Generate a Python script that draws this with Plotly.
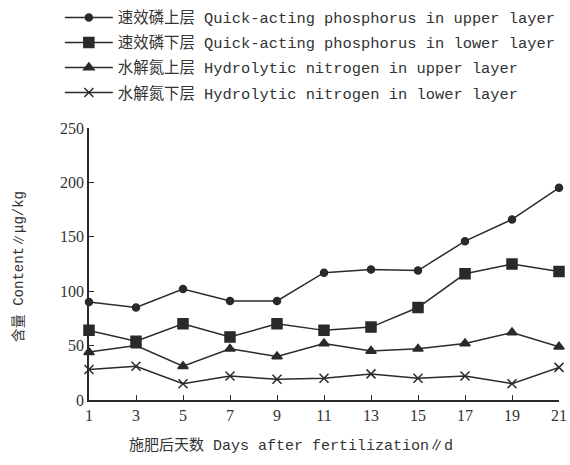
import plotly.graph_objects as go

days = [1, 3, 5, 7, 9, 11, 13, 15, 17, 19, 21]
p_upper = [90, 85, 102, 91, 91, 117, 120, 119, 146, 166, 195]
p_lower = [64, 54, 70, 58, 70, 64, 67, 85, 116, 125, 118]
n_upper = [44, 50, 31, 47, 40, 52, 45, 47, 52, 62, 49]
n_lower = [28, 31, 15, 22, 19, 20, 24, 20, 22, 15, 30]

names = [
    "速效磷上层 Quick-acting phosphorus in upper layer",
    "速效磷下层 Quick-acting phosphorus in lower layer",
    "水解氮上层 Hydrolytic nitrogen in upper layer",
    "水解氮下层 Hydrolytic nitrogen in lower layer",
]
series = [p_upper, p_lower, n_upper, n_lower]
symbols = ["circle", "square", "triangle-up", "x-thin-open"]
sizes = [7, 10, 9, 9]

ink = "#2a2a2a"
fig = go.Figure()
for i, (nm, ys, sym, sz) in enumerate(zip(names, series, symbols, sizes)):
    fig.add_trace(go.Scatter(
        x=days, y=ys, name=nm, mode="lines+markers", legendgroup=f"g{i}",
        line=dict(color=ink, width=1.5),
        marker=dict(symbol=sym, size=sz, color=ink, line=dict(color=ink, width=1.5)),
        cliponaxis=False,
    ))

tickfont = dict(family="Liberation Serif, serif", size=16, color="#333")
fig.update_layout(
    width=570, height=465,
    margin=dict(l=89, r=11, t=128, b=65, autoexpand=False),
    paper_bgcolor="white", plot_bgcolor="white",
    showlegend=True,
    legend=dict(
        xref="container", yref="container", x=0.105, y=0.998, xanchor="left", yanchor="top",
        font=dict(family="Liberation Mono, Noto Sans CJK SC", size=15.4, color="#333"),
        itemwidth=48, tracegroupgap=2, bgcolor="rgba(0,0,0,0)",
    ),
    xaxis=dict(
        range=[1, 21], tickvals=days, ticks="inside", ticklen=5, tickcolor=ink,
        showline=True, linecolor=ink, linewidth=1.5, showgrid=False, zeroline=False,
        tickfont=tickfont,
    ),
    yaxis=dict(
        range=[0, 250], tickvals=[0, 50, 100, 150, 200, 250], ticks="inside", ticklen=5,
        tickcolor=ink, showline=True, linecolor=ink, linewidth=1.5, showgrid=False,
        zeroline=False, tickfont=tickfont,
    ),
    annotations=[
        dict(text="施肥后天数 Days after fertilization∥d", xref="paper", yref="paper",
             x=(291 - 89) / 470, y=-0.17, showarrow=False, xanchor="center",
             yanchor="middle",
             font=dict(family="Liberation Mono, Noto Sans CJK SC", size=15, color="#333")),
        dict(text="含量 Content∥μg/kg", xref="paper", yref="paper",
             x=-0.15, y=0.49, showarrow=False, textangle=-90, xanchor="center",
             yanchor="middle",
             font=dict(family="Liberation Mono, Noto Sans CJK SC", size=14, color="#333")),
    ],
)
fig.write_html("out.html")
